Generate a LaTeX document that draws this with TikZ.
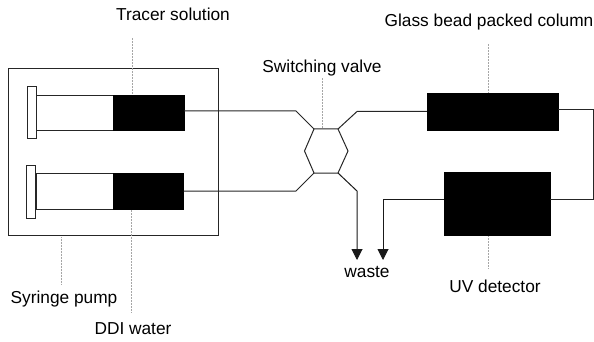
\documentclass[tikz,border=0pt]{standalone}
\usepackage{fontspec}
\setmainfont{Liberation Sans}
\usetikzlibrary{arrows.meta,positioning,calc}

\begin{document}
\begin{tikzpicture}[
  x=1pt, y=-1pt,
  >={Triangle[length=11pt,width=11pt]},
  solid box/.style={draw=black, fill=black, inner sep=0pt, minimum width=#1},
  open box/.style={draw=black!85, fill=white, line width=0.8pt, inner sep=0pt, minimum width=#1},
  pipe/.style={draw=black!85, line width=1pt},
  outlet/.style={->, draw=black!90, line width=1pt},
  leader/.style={draw=black!35, densely dotted, line width=0.5pt},
  every node/.style={font=\fontsize{17.3}{19}\selectfont, text=black}
]
\useasboundingbox (0,0) rectangle (594,342);

% pump housing and syringes
\node[open box=210pt, minimum height=167pt] (pump) at (113,151.5) {};
\node[open box=77pt, minimum height=35pt] (barrelA) at (75,112.5) {};
\node[solid box=70.5pt, minimum height=35pt] (tracer) at (148.75,112.5) {};
\node[open box=9.5pt, minimum height=52pt] (plungerA) at (31.75,112) {};
\node[open box=77pt, minimum height=36pt] (barrelB) at (74.5,191) {};
\node[solid box=70.5pt, minimum height=36pt] (ddi) at (148.25,191) {};
\node[open box=9.5pt, minimum height=53pt] (plungerB) at (30.75,191.5) {};

% column and detector
\node[solid box=131pt, minimum height=36.5pt] (column) at (492.5,111.75) {};
\node[solid box=106pt, minimum height=63pt] (detector) at (497,203.5) {};

% valve corners
\coordinate (v1) at (314,129);
\coordinate (v2) at (338,129);
\coordinate (v3) at (348,151);
\coordinate (v4) at (338,173);
\coordinate (v5) at (314,173);
\coordinate (v6) at (304.5,151);
\draw[pipe] (v1) -- (v2) -- (v3) -- (v4) -- (v5) -- (v6) -- cycle;

% labels
\node (tracerlabel) at (173,14) {Tracer solution};
\node (valvelabel) at (322,68) {Switching valve};
\node (columnlabel) at (489,22) {Glass bead packed column};
\node (pumplabel) at (64,299) {Syringe pump};
\node (ddilabel) at (133,329) {DDI water};
\node (wastelabel) at (367,272) {waste};
\node (uvlabel) at (495,286) {UV detector};

% tubing
\coordinate (a1) at (296,111);
\coordinate (a2) at (296,191);
\coordinate (b1) at (357,111.5);
\coordinate (b2) at (357,191);
\coordinate (w1) at (357,260);
\coordinate (w2) at (383,260);
\coordinate (c1) at (593,110);
\coordinate (c2) at (593,199);
\coordinate (d1) at (383,199.5);
\draw[pipe] (tracer.east |- a1) -- (a1) -- (v1);
\draw[pipe] (ddi.east |- a2) -- (a2) -- (v5);
\draw[pipe] (v2) -- (b1) -- (column.west |- b1);
\draw[pipe] (column.east |- c1) -- (c1) -- (c2) -- (detector.east |- c2);
\draw[outlet] (v4) -- (b2) -- (w1);
\draw[outlet] (detector.west |- d1) -- (d1) -- (w2);

% pointer lines
\coordinate (l1) at (132.5,38);
\coordinate (l2) at (131,312);
\coordinate (l3) at (61,237);
\coordinate (l4) at (61,285);
\coordinate (l5) at (322,78);
\coordinate (l6) at (488,44);
\coordinate (l7) at (488,268);
\draw[leader] (l1) -- (l1 |- tracer.north);
\draw[leader] (l2) -- (l2 |- ddi.south);
\draw[leader] (l3) -- (l4);
\draw[leader] (l5) -- (l5 |- v1);
\draw[leader] (l6) -- (l6 |- column.north);
\draw[leader] (l7) -- (l7 |- detector.south);
\end{tikzpicture}
\end{document}
